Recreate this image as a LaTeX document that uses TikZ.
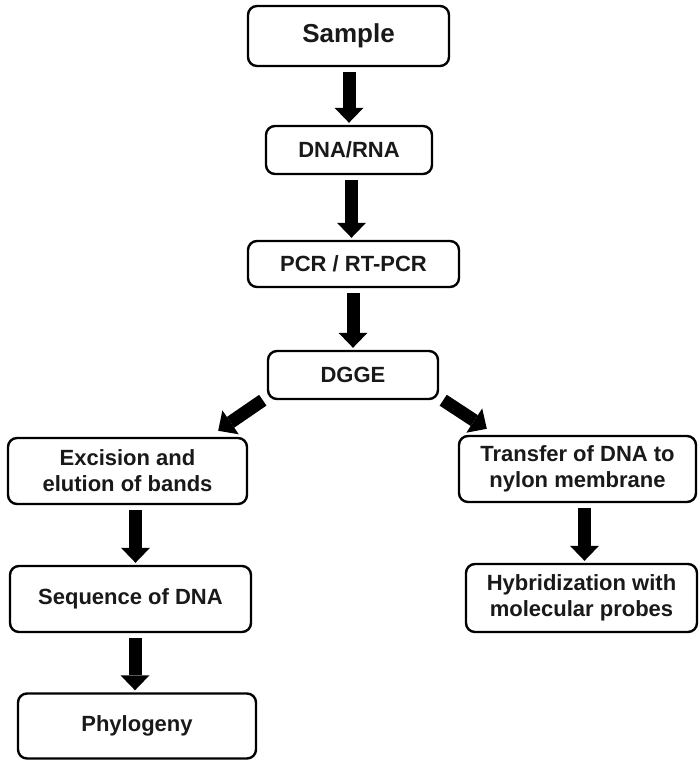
\documentclass[tikz,border=0pt]{standalone}
\usepackage{fontspec}
\setmainfont{Liberation Sans}
\usetikzlibrary{arrows.meta,calc}
\begin{document}
\begin{tikzpicture}[x=1pt,y=-1pt,
  box/.style={draw, line width=2.4pt, rounded corners=9pt, fill=white, align=center,
    font=\bfseries\fontsize{22}{26}\selectfont, inner sep=0pt, text=black!90},
  barrow/.style={line width=13pt, -{Triangle[length=15pt,width=29pt,line width=0pt]},
    shorten <=5pt, shorten >=2pt}]
\useasboundingbox (0,0) rectangle (699,761);
\node[box, minimum width=201pt, minimum height=60pt, font=\bfseries\fontsize{26}{30}\selectfont] (s) at (348.5,36) {Sample};
\node[box, minimum width=166pt, minimum height=48pt] (dn) at (349,150) {DNA/RNA};
\node[box, minimum width=211pt, minimum height=46pt] (pc) at (353.5,264) {PCR / RT-PCR};
\node[box, minimum width=170pt, minimum height=48pt] (dg) at (353,375) {DGGE};
\node[box, minimum width=239pt, minimum height=66pt] (ex) at (127.5,471) {Excision and\\elution of bands};
\node[box, minimum width=241pt, minimum height=66pt] (sq) at (130.5,599) {Sequence of DNA};
\node[box, minimum width=238pt, minimum height=65pt] (ph) at (137,726) {Phylogeny};
\node[box, minimum width=237pt, minimum height=66pt] (tr) at (577.5,469) {Transfer of DNA to\\nylon membrane};
\node[box, minimum width=231pt, minimum height=68pt] (hy) at (581.5,598) {Hybridization with\\molecular probes};
\coordinate (a2) at ($(pc.north)+(-2,0)$);
\coordinate (a4) at ($(sq.north)+(5,0)$);
\coordinate (a5) at ($(ph.north)+(-2,0)$);
\coordinate (a6) at ($(hy.north)+(3,0)$);
\coordinate (d1s) at ($(dg.south west)+(-4,0)$);
\coordinate (d1e) at ($(ex.north east)+(-30,-6)$);
\coordinate (d2s) at ($(dg.south east)+(4,0)$);
\coordinate (d2e) at ($(tr.north west)+(29,-6)$);
\draw[barrow] (dn.north |- s.south) -- (dn.north);
\draw[barrow] (a2 |- dn.south) -- (a2);
\draw[barrow] (dg.north |- pc.south) -- (dg.north);
\draw[barrow] (a4 |- ex.south) -- (a4);
\draw[barrow] (a5 |- sq.south) -- (a5);
\draw[barrow] (a6 |- tr.south) -- (a6);
\draw[barrow, shorten <=0pt, shorten >=0pt] (d1s) -- (d1e);
\draw[barrow, shorten <=0pt, shorten >=0pt] (d2s) -- (d2e);
\end{tikzpicture}
\end{document}
